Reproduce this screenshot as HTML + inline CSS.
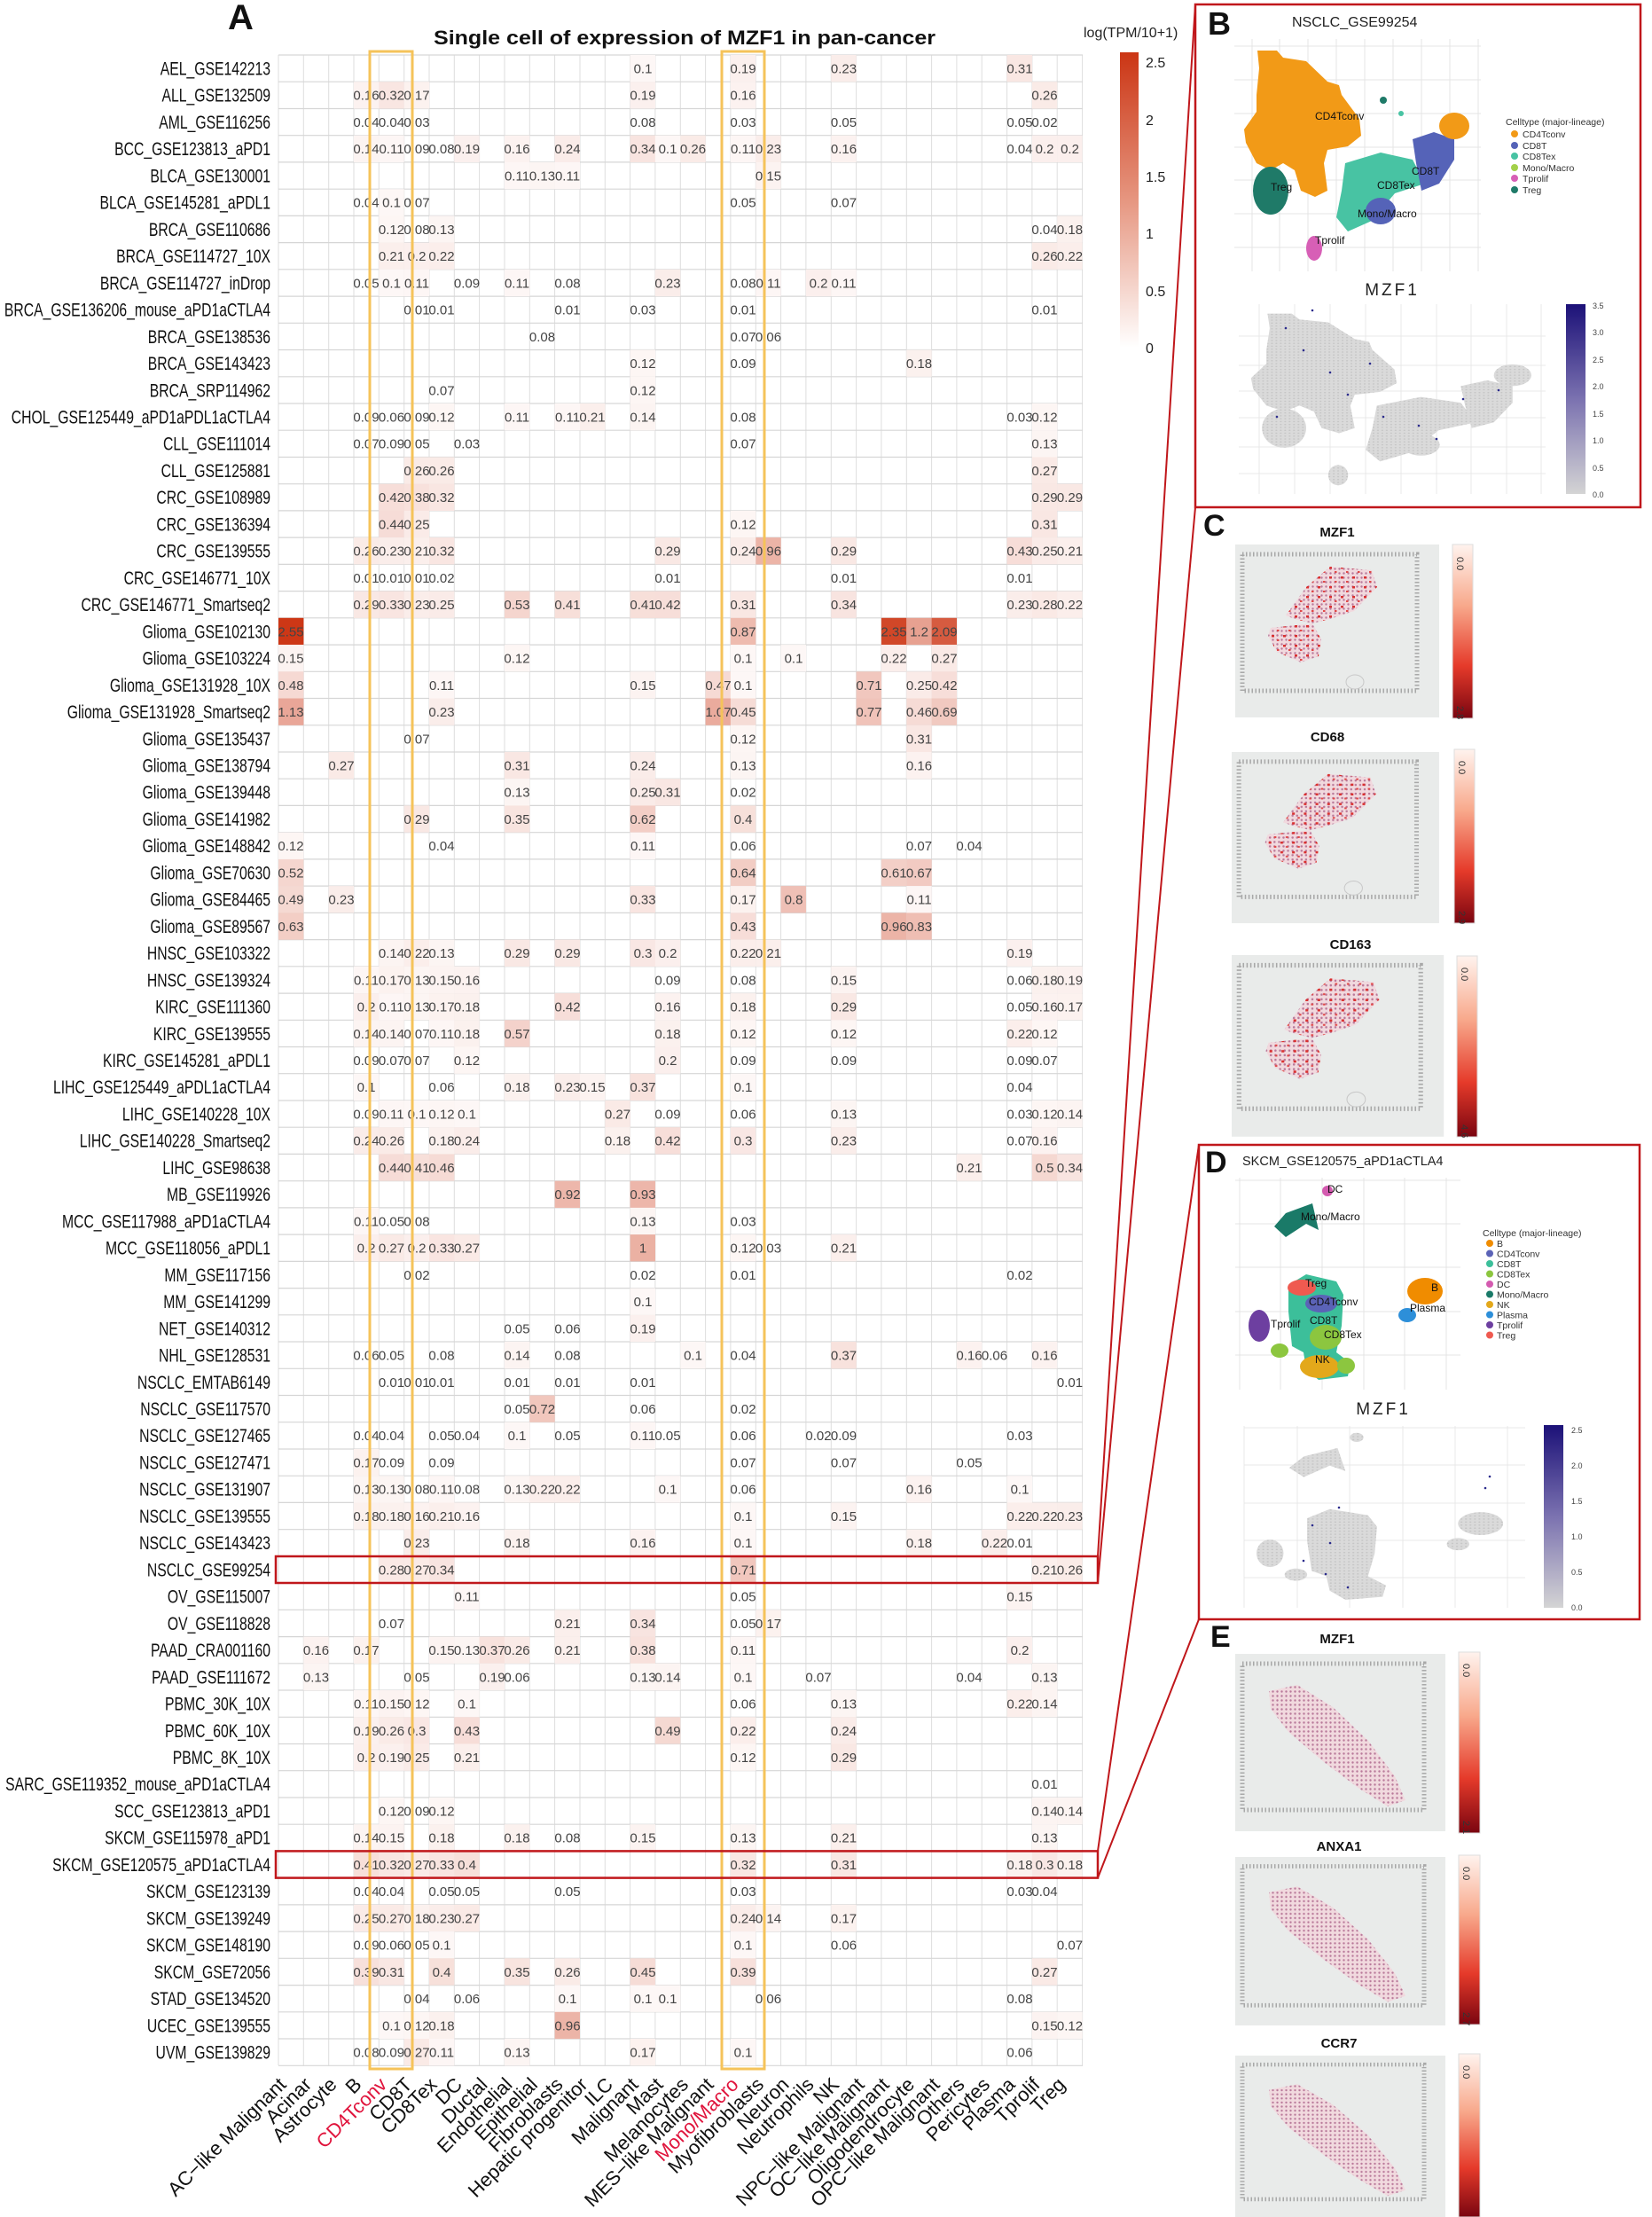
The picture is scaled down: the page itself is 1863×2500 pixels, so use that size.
<!DOCTYPE html>
<html><head><meta charset="utf-8">
<style>
html,body{margin:0;padding:0;background:#fff}
svg{display:block;font-family:"Liberation Sans",Arial,sans-serif}
rect.c{width:28.4px;height:30.3px}
.v text{font-size:15px;fill:#444;text-anchor:middle}
.yl text{font-size:21px;fill:#111;text-anchor:end}
.xl text{font-size:22px;fill:#111;text-anchor:end}
.lg text{font-size:10.5px;fill:#333}
.cl text{font-size:12px;fill:#111}
.tk text{font-size:9px;fill:#444}
</style></head><body>
<svg width="1863" height="2500" viewBox="0 0 1863 2500" xmlns="http://www.w3.org/2000/svg" xmlns:xlink="http://www.w3.org/1999/xlink">
<defs>
<linearGradient id="gA" x1="0" y1="0" x2="0" y2="1"><stop offset="0" stop-color="#cb3514"/><stop offset="0.5" stop-color="#e69680"/><stop offset="1" stop-color="#ffffff"/></linearGradient>
<linearGradient id="gB" x1="0" y1="0" x2="0" y2="1"><stop offset="0" stop-color="#1c1178"/><stop offset="0.5" stop-color="#7b72b0"/><stop offset="1" stop-color="#d4d4d4"/></linearGradient>
<linearGradient id="gR" x1="0" y1="0" x2="0" y2="1"><stop offset="0" stop-color="#fff3ee"/><stop offset="0.35" stop-color="#f8a98c"/><stop offset="0.7" stop-color="#e53a2a"/><stop offset="1" stop-color="#7a0510"/></linearGradient>
<pattern id="tp" width="5" height="5" patternUnits="userSpaceOnUse"><rect width="5" height="5" fill="#f1d9de"/><circle cx="2.5" cy="2.5" r="1.2" fill="#b9799a"/></pattern>
<pattern id="rd" width="13" height="11" patternUnits="userSpaceOnUse"><rect x="2" y="3" width="3" height="2.5" fill="#d93030"/><rect x="8" y="8" width="2.5" height="2" fill="#e04848"/></pattern>
<pattern id="gp" width="4" height="4" patternUnits="userSpaceOnUse"><rect width="4" height="4" fill="#dadada"/><circle cx="2" cy="2" r="0.9" fill="#c4c4c4"/></pattern>
<g id="sp1">
<rect width="230" height="195" fill="#e9ebea"/>
<rect x="8" y="11" width="197" height="154" fill="none" stroke="#a8a8a8" stroke-width="5" stroke-dasharray="1.5 2.5"/>
<polygon points="107,25 154,29 160,48 134,75 107,84 87,89 67,84 57,80 80,48" fill="url(#tp)"/>
<polygon points="40,94 87,89 97,107 94,126 74,133 47,121 37,103" fill="url(#tp)"/>
<polygon points="107,25 154,29 160,48 134,75 107,84 87,89 67,84 57,80 80,48" fill="url(#rd)"/>
<polygon points="40,94 87,89 97,107 94,126 74,133 47,121 37,103" fill="url(#rd)"/>
<ellipse cx="135" cy="155" rx="10" ry="8" fill="none" stroke="#c8c8c8"/>
</g>
<g id="sp2">
<rect width="237" height="200" fill="#e9ebea"/>
<rect x="8" y="11" width="205" height="165" fill="none" stroke="#a8a8a8" stroke-width="5" stroke-dasharray="1.5 2.5"/>
<polygon points="38,42 70,35 110,60 150,98 180,138 192,165 172,172 140,152 100,122 60,88 40,62" fill="url(#tp)"/>
</g>
<g id="umapB">
<polygon points="1418,57 1440,57 1447,65 1473,69 1497,92 1510,96 1513,107 1533,134 1535,153 1520,165 1497,169 1493,184 1497,215 1483,222 1467,215 1460,192 1447,184 1433,192 1417,184 1405,161 1403,146 1417,126 1417,107 1420,77"/>
<ellipse cx="1433" cy="215" rx="20" ry="27"/>
<polygon points="1517,184 1557,172 1593,180 1607,207 1573,218 1547,249 1520,261 1507,245 1513,215"/>
<polygon points="1593,157 1617,149 1640,157 1640,180 1623,207 1603,215 1597,184"/>
<ellipse cx="1557" cy="238" rx="17" ry="15"/>
<ellipse cx="1640" cy="142" rx="17" ry="15"/>
<ellipse cx="1482" cy="280" rx="9" ry="14"/>
</g>
<g id="umapD">
<polygon points="1437,1383 1450,1368 1480,1357 1487,1387 1473,1380 1450,1395"/>
<circle cx="1497" cy="1343" r="6"/>
<polygon points="1453,1449 1473,1437 1507,1445 1515,1460 1513,1495 1507,1525 1523,1537 1520,1552 1487,1556 1473,1544 1470,1525 1457,1518 1453,1479"/>
<ellipse cx="1420" cy="1495" rx="12" ry="18"/>
<ellipse cx="1443" cy="1523" rx="10" ry="8"/>
<ellipse cx="1607" cy="1456" rx="20" ry="15"/>
<ellipse cx="1587" cy="1483" rx="10" ry="8"/>
</g>
</defs>

<!-- Panel A -->
<text x="257" y="33" font-size="40" font-weight="bold" fill="#111">A</text>
<text x="489" y="50" font-size="22" font-weight="bold" fill="#111" textLength="566" lengthAdjust="spacingAndGlyphs">Single cell of expression of MZF1 in pan-cancer</text>

<path fill="none" stroke="#dedede" stroke-width="1" d="M314 62V2329M342.3 62V2329M370.7 62V2329M399 62V2329M427.3 62V2329M455.7 62V2329M484 62V2329M512.3 62V2329M540.6 62V2329M569 62V2329M597.3 62V2329M625.6 62V2329M654 62V2329M682.3 62V2329M710.6 62V2329M738.9 62V2329M767.3 62V2329M795.6 62V2329M823.9 62V2329M852.3 62V2329M880.6 62V2329M908.9 62V2329M937.3 62V2329M965.6 62V2329M993.9 62V2329M1022.3 62V2329M1050.6 62V2329M1078.9 62V2329M1107.2 62V2329M1135.6 62V2329M1163.9 62V2329M1192.2 62V2329M1220.6 62V2329"/>
<path fill="none" stroke="#d6d6d6" stroke-width="1.2" d="M314 62H1221M314 92.2H1221M314 122.5H1221M314 152.7H1221M314 182.9H1221M314 213.2H1221M314 243.4H1221M314 273.6H1221M314 303.8H1221M314 334.1H1221M314 364.3H1221M314 394.5H1221M314 424.8H1221M314 455H1221M314 485.2H1221M314 515.5H1221M314 545.7H1221M314 575.9H1221M314 606.1H1221M314 636.4H1221M314 666.6H1221M314 696.8H1221M314 727.1H1221M314 757.3H1221M314 787.5H1221M314 817.8H1221M314 848H1221M314 878.2H1221M314 908.4H1221M314 938.7H1221M314 968.9H1221M314 999.1H1221M314 1029.4H1221M314 1059.6H1221M314 1089.8H1221M314 1120.1H1221M314 1150.3H1221M314 1180.5H1221M314 1210.7H1221M314 1241H1221M314 1271.2H1221M314 1301.4H1221M314 1331.7H1221M314 1361.9H1221M314 1392.1H1221M314 1422.4H1221M314 1452.6H1221M314 1482.8H1221M314 1513H1221M314 1543.3H1221M314 1573.5H1221M314 1603.7H1221M314 1634H1221M314 1664.2H1221M314 1694.4H1221M314 1724.7H1221M314 1754.9H1221M314 1785.1H1221M314 1815.3H1221M314 1845.6H1221M314 1875.8H1221M314 1906H1221M314 1936.3H1221M314 1966.5H1221M314 1996.7H1221M314 2027H1221M314 2057.2H1221M314 2087.4H1221M314 2117.6H1221M314 2147.9H1221M314 2178.1H1221M314 2208.3H1221M314 2238.6H1221M314 2268.8H1221M314 2299H1221M314 2329.3H1221"/>

<g class="v">
<g transform="translate(0,62)"><rect class="c" x="710.6" fill="rgb(253,247,246)"/><rect class="c" x="823.9" fill="rgb(251,240,238)"/><rect class="c" x="937.3" fill="rgb(250,237,234)"/><rect class="c" x="1135.6" fill="rgb(249,231,227)"/><text x="725" y="20.5">0.1</text><text x="838" y="20.5">0.19</text><text x="951.5" y="20.5">0.23</text><text x="1150" y="20.5">0.31</text></g>
<g transform="translate(0,92.2)"><rect class="c" x="399" fill="rgb(252,242,240)"/><rect class="c" x="427.3" fill="rgb(249,230,226)"/><rect class="c" x="455.7" fill="rgb(252,242,239)"/><rect class="c" x="710.6" fill="rgb(251,240,238)"/><rect class="c" x="823.9" fill="rgb(252,242,240)"/><rect class="c" x="1163.9" fill="rgb(250,235,231)"/><text x="413" y="20.5">0.16</text><text x="441.5" y="20.5">0.32</text><text x="470" y="20.5">0.17</text><text x="725" y="20.5">0.19</text><text x="838" y="20.5">0.16</text><text x="1178" y="20.5">0.26</text></g>
<g transform="translate(0,122.5)"><text x="413" y="20.5">0.04</text><text x="441.5" y="20.5">0.04</text><text x="470" y="20.5">0.03</text><text x="725" y="20.5">0.08</text><text x="838" y="20.5">0.03</text><text x="951.5" y="20.5">0.05</text><text x="1150" y="20.5">0.05</text><text x="1178" y="20.5">0.02</text></g>
<g transform="translate(0,152.7)"><rect class="c" x="399" fill="rgb(252,244,242)"/><rect class="c" x="427.3" fill="rgb(253,246,245)"/><rect class="c" x="512.3" fill="rgb(251,240,238)"/><rect class="c" x="569" fill="rgb(252,242,240)"/><rect class="c" x="625.6" fill="rgb(250,236,233)"/><rect class="c" x="710.6" fill="rgb(248,228,224)"/><rect class="c" x="738.9" fill="rgb(253,247,246)"/><rect class="c" x="767.3" fill="rgb(250,235,231)"/><rect class="c" x="823.9" fill="rgb(253,246,245)"/><rect class="c" x="852.3" fill="rgb(250,237,234)"/><rect class="c" x="937.3" fill="rgb(252,242,240)"/><rect class="c" x="1163.9" fill="rgb(251,239,237)"/><rect class="c" x="1192.2" fill="rgb(251,239,237)"/><text x="413" y="20.5">0.14</text><text x="441.5" y="20.5">0.11</text><text x="470" y="20.5">0.09</text><text x="498" y="20.5">0.08</text><text x="526.5" y="20.5">0.19</text><text x="583" y="20.5">0.16</text><text x="640" y="20.5">0.24</text><text x="725" y="20.5">0.34</text><text x="753" y="20.5">0.1</text><text x="781.5" y="20.5">0.26</text><text x="838" y="20.5">0.11</text><text x="866.5" y="20.5">0.23</text><text x="951.5" y="20.5">0.16</text><text x="1150" y="20.5">0.04</text><text x="1178" y="20.5">0.2</text><text x="1206.5" y="20.5">0.2</text></g>
<g transform="translate(0,182.9)"><rect class="c" x="569" fill="rgb(253,246,245)"/><rect class="c" x="597.3" fill="rgb(252,245,243)"/><rect class="c" x="625.6" fill="rgb(253,246,245)"/><rect class="c" x="852.3" fill="rgb(252,243,241)"/><text x="583" y="20.5">0.11</text><text x="611.5" y="20.5">0.13</text><text x="640" y="20.5">0.11</text><text x="866.5" y="20.5">0.15</text></g>
<g transform="translate(0,213.2)"><rect class="c" x="427.3" fill="rgb(253,247,246)"/><text x="413" y="20.5">0.04</text><text x="441.5" y="20.5">0.1</text><text x="470" y="20.5">0.07</text><text x="838" y="20.5">0.05</text><text x="951.5" y="20.5">0.07</text></g>
<g transform="translate(0,243.4)"><rect class="c" x="427.3" fill="rgb(253,246,244)"/><rect class="c" x="484" fill="rgb(252,245,243)"/><rect class="c" x="1192.2" fill="rgb(251,241,238)"/><text x="441.5" y="20.5">0.12</text><text x="470" y="20.5">0.08</text><text x="498" y="20.5">0.13</text><text x="1178" y="20.5">0.04</text><text x="1206.5" y="20.5">0.18</text></g>
<g transform="translate(0,273.6)"><rect class="c" x="427.3" fill="rgb(251,239,236)"/><rect class="c" x="455.7" fill="rgb(251,239,237)"/><rect class="c" x="484" fill="rgb(251,238,235)"/><rect class="c" x="1163.9" fill="rgb(250,235,231)"/><rect class="c" x="1192.2" fill="rgb(251,238,235)"/><text x="441.5" y="20.5">0.21</text><text x="470" y="20.5">0.2</text><text x="498" y="20.5">0.22</text><text x="1178" y="20.5">0.26</text><text x="1206.5" y="20.5">0.22</text></g>
<g transform="translate(0,303.8)"><rect class="c" x="427.3" fill="rgb(253,247,246)"/><rect class="c" x="455.7" fill="rgb(253,246,245)"/><rect class="c" x="569" fill="rgb(253,246,245)"/><rect class="c" x="738.9" fill="rgb(250,237,234)"/><rect class="c" x="852.3" fill="rgb(253,246,245)"/><rect class="c" x="908.9" fill="rgb(251,239,237)"/><rect class="c" x="937.3" fill="rgb(253,246,245)"/><text x="413" y="20.5">0.05</text><text x="441.5" y="20.5">0.1</text><text x="470" y="20.5">0.11</text><text x="526.5" y="20.5">0.09</text><text x="583" y="20.5">0.11</text><text x="640" y="20.5">0.08</text><text x="753" y="20.5">0.23</text><text x="838" y="20.5">0.08</text><text x="866.5" y="20.5">0.11</text><text x="923" y="20.5">0.2</text><text x="951.5" y="20.5">0.11</text></g>
<g transform="translate(0,334.1)"><text x="470" y="20.5">0.01</text><text x="498" y="20.5">0.01</text><text x="640" y="20.5">0.01</text><text x="725" y="20.5">0.03</text><text x="838" y="20.5">0.01</text><text x="1178" y="20.5">0.01</text></g>
<g transform="translate(0,364.3)"><text x="611.5" y="20.5">0.08</text><text x="838" y="20.5">0.07</text><text x="866.5" y="20.5">0.06</text></g>
<g transform="translate(0,394.5)"><rect class="c" x="710.6" fill="rgb(253,246,244)"/><rect class="c" x="1022.3" fill="rgb(251,241,238)"/><text x="725" y="20.5">0.12</text><text x="838" y="20.5">0.09</text><text x="1036.5" y="20.5">0.18</text></g>
<g transform="translate(0,424.8)"><rect class="c" x="710.6" fill="rgb(253,246,244)"/><text x="498" y="20.5">0.07</text><text x="725" y="20.5">0.12</text></g>
<g transform="translate(0,455)"><rect class="c" x="484" fill="rgb(253,246,244)"/><rect class="c" x="569" fill="rgb(253,246,245)"/><rect class="c" x="625.6" fill="rgb(253,246,245)"/><rect class="c" x="654" fill="rgb(251,239,236)"/><rect class="c" x="710.6" fill="rgb(252,244,242)"/><rect class="c" x="1163.9" fill="rgb(253,246,244)"/><text x="413" y="20.5">0.09</text><text x="441.5" y="20.5">0.06</text><text x="470" y="20.5">0.09</text><text x="498" y="20.5">0.12</text><text x="583" y="20.5">0.11</text><text x="640" y="20.5">0.11</text><text x="668" y="20.5">0.21</text><text x="725" y="20.5">0.14</text><text x="838" y="20.5">0.08</text><text x="1150" y="20.5">0.03</text><text x="1178" y="20.5">0.12</text></g>
<g transform="translate(0,485.2)"><rect class="c" x="1163.9" fill="rgb(252,245,243)"/><text x="413" y="20.5">0.07</text><text x="441.5" y="20.5">0.09</text><text x="470" y="20.5">0.05</text><text x="526.5" y="20.5">0.03</text><text x="838" y="20.5">0.07</text><text x="1178" y="20.5">0.13</text></g>
<g transform="translate(0,515.5)"><rect class="c" x="455.7" fill="rgb(250,235,231)"/><rect class="c" x="484" fill="rgb(250,235,231)"/><rect class="c" x="1163.9" fill="rgb(250,234,230)"/><text x="470" y="20.5">0.26</text><text x="498" y="20.5">0.26</text><text x="1178" y="20.5">0.27</text></g>
<g transform="translate(0,545.7)"><rect class="c" x="427.3" fill="rgb(247,222,217)"/><rect class="c" x="455.7" fill="rgb(248,225,220)"/><rect class="c" x="484" fill="rgb(249,230,226)"/><rect class="c" x="1163.9" fill="rgb(249,232,228)"/><rect class="c" x="1192.2" fill="rgb(249,232,228)"/><text x="441.5" y="20.5">0.42</text><text x="470" y="20.5">0.38</text><text x="498" y="20.5">0.32</text><text x="1178" y="20.5">0.29</text><text x="1206.5" y="20.5">0.29</text></g>
<g transform="translate(0,575.9)"><rect class="c" x="427.3" fill="rgb(246,220,215)"/><rect class="c" x="455.7" fill="rgb(250,235,232)"/><rect class="c" x="823.9" fill="rgb(253,246,244)"/><rect class="c" x="1163.9" fill="rgb(249,231,227)"/><text x="441.5" y="20.5">0.44</text><text x="470" y="20.5">0.25</text><text x="838" y="20.5">0.12</text><text x="1178" y="20.5">0.31</text></g>
<g transform="translate(0,606.1)"><rect class="c" x="399" fill="rgb(250,235,231)"/><rect class="c" x="427.3" fill="rgb(250,237,234)"/><rect class="c" x="455.7" fill="rgb(251,239,236)"/><rect class="c" x="484" fill="rgb(249,230,226)"/><rect class="c" x="738.9" fill="rgb(249,232,228)"/><rect class="c" x="823.9" fill="rgb(250,236,233)"/><rect class="c" x="852.3" fill="rgb(236,180,167)"/><rect class="c" x="937.3" fill="rgb(249,232,228)"/><rect class="c" x="1135.6" fill="rgb(247,221,216)"/><rect class="c" x="1163.9" fill="rgb(250,235,232)"/><rect class="c" x="1192.2" fill="rgb(251,239,236)"/><text x="413" y="20.5">0.26</text><text x="441.5" y="20.5">0.23</text><text x="470" y="20.5">0.21</text><text x="498" y="20.5">0.32</text><text x="753" y="20.5">0.29</text><text x="838" y="20.5">0.24</text><text x="866.5" y="20.5">0.96</text><text x="951.5" y="20.5">0.29</text><text x="1150" y="20.5">0.43</text><text x="1178" y="20.5">0.25</text><text x="1206.5" y="20.5">0.21</text></g>
<g transform="translate(0,636.4)"><text x="413" y="20.5">0.01</text><text x="441.5" y="20.5">0.01</text><text x="470" y="20.5">0.01</text><text x="498" y="20.5">0.02</text><text x="753" y="20.5">0.01</text><text x="951.5" y="20.5">0.01</text><text x="1150" y="20.5">0.01</text></g>
<g transform="translate(0,666.6)"><rect class="c" x="399" fill="rgb(249,232,228)"/><rect class="c" x="427.3" fill="rgb(249,229,225)"/><rect class="c" x="455.7" fill="rgb(250,237,234)"/><rect class="c" x="484" fill="rgb(250,235,232)"/><rect class="c" x="569" fill="rgb(245,213,206)"/><rect class="c" x="625.6" fill="rgb(247,223,217)"/><rect class="c" x="710.6" fill="rgb(247,223,217)"/><rect class="c" x="738.9" fill="rgb(247,222,217)"/><rect class="c" x="823.9" fill="rgb(249,231,227)"/><rect class="c" x="937.3" fill="rgb(248,228,224)"/><rect class="c" x="1135.6" fill="rgb(250,237,234)"/><rect class="c" x="1163.9" fill="rgb(250,233,229)"/><rect class="c" x="1192.2" fill="rgb(251,238,235)"/><text x="413" y="20.5">0.29</text><text x="441.5" y="20.5">0.33</text><text x="470" y="20.5">0.23</text><text x="498" y="20.5">0.25</text><text x="583" y="20.5">0.53</text><text x="640" y="20.5">0.41</text><text x="725" y="20.5">0.41</text><text x="753" y="20.5">0.42</text><text x="838" y="20.5">0.31</text><text x="951.5" y="20.5">0.34</text><text x="1150" y="20.5">0.23</text><text x="1178" y="20.5">0.28</text><text x="1206.5" y="20.5">0.22</text></g>
<g transform="translate(0,696.8)"><rect class="c" x="314" fill="rgb(205,55,22)"/><rect class="c" x="823.9" fill="rgb(238,187,175)"/><rect class="c" x="993.9" fill="rgb(209,71,40)"/><rect class="c" x="1022.3" fill="rgb(231,161,145)"/><rect class="c" x="1050.6" fill="rgb(214,91,64)"/><text x="328" y="20.5">2.55</text><text x="838" y="20.5">0.87</text><text x="1008" y="20.5">2.35</text><text x="1036.5" y="20.5">1.2</text><text x="1065" y="20.5">2.09</text></g>
<g transform="translate(0,727.1)"><rect class="c" x="314" fill="rgb(252,243,241)"/><rect class="c" x="569" fill="rgb(253,246,244)"/><rect class="c" x="823.9" fill="rgb(253,247,246)"/><rect class="c" x="880.6" fill="rgb(253,247,246)"/><rect class="c" x="993.9" fill="rgb(251,238,235)"/><rect class="c" x="1050.6" fill="rgb(250,234,230)"/><text x="328" y="20.5">0.15</text><text x="583" y="20.5">0.12</text><text x="838" y="20.5">0.1</text><text x="895" y="20.5">0.1</text><text x="1008" y="20.5">0.22</text><text x="1065" y="20.5">0.27</text></g>
<g transform="translate(0,757.3)"><rect class="c" x="314" fill="rgb(246,217,211)"/><rect class="c" x="484" fill="rgb(253,246,245)"/><rect class="c" x="710.6" fill="rgb(252,243,241)"/><rect class="c" x="795.6" fill="rgb(246,218,212)"/><rect class="c" x="823.9" fill="rgb(253,247,246)"/><rect class="c" x="965.6" fill="rgb(241,199,190)"/><rect class="c" x="1022.3" fill="rgb(250,235,232)"/><rect class="c" x="1050.6" fill="rgb(247,222,217)"/><text x="328" y="20.5">0.48</text><text x="498" y="20.5">0.11</text><text x="725" y="20.5">0.15</text><text x="810" y="20.5">0.47</text><text x="838" y="20.5">0.1</text><text x="980" y="20.5">0.71</text><text x="1036.5" y="20.5">0.25</text><text x="1065" y="20.5">0.42</text></g>
<g transform="translate(0,787.5)"><rect class="c" x="314" fill="rgb(233,166,152)"/><rect class="c" x="484" fill="rgb(250,237,234)"/><rect class="c" x="795.6" fill="rgb(234,171,157)"/><rect class="c" x="823.9" fill="rgb(246,220,214)"/><rect class="c" x="965.6" fill="rgb(240,195,185)"/><rect class="c" x="1022.3" fill="rgb(246,219,213)"/><rect class="c" x="1050.6" fill="rgb(241,201,192)"/><text x="328" y="20.5">1.13</text><text x="498" y="20.5">0.23</text><text x="810" y="20.5">1.07</text><text x="838" y="20.5">0.45</text><text x="980" y="20.5">0.77</text><text x="1036.5" y="20.5">0.46</text><text x="1065" y="20.5">0.69</text></g>
<g transform="translate(0,817.8)"><rect class="c" x="823.9" fill="rgb(253,246,244)"/><rect class="c" x="1022.3" fill="rgb(249,231,227)"/><text x="470" y="20.5">0.07</text><text x="838" y="20.5">0.12</text><text x="1036.5" y="20.5">0.31</text></g>
<g transform="translate(0,848)"><rect class="c" x="370.7" fill="rgb(250,234,230)"/><rect class="c" x="569" fill="rgb(249,231,227)"/><rect class="c" x="710.6" fill="rgb(250,236,233)"/><rect class="c" x="823.9" fill="rgb(252,245,243)"/><rect class="c" x="1022.3" fill="rgb(252,242,240)"/><text x="385" y="20.5">0.27</text><text x="583" y="20.5">0.31</text><text x="725" y="20.5">0.24</text><text x="838" y="20.5">0.13</text><text x="1036.5" y="20.5">0.16</text></g>
<g transform="translate(0,878.2)"><rect class="c" x="569" fill="rgb(252,245,243)"/><rect class="c" x="710.6" fill="rgb(250,235,232)"/><rect class="c" x="738.9" fill="rgb(249,231,227)"/><text x="583" y="20.5">0.13</text><text x="725" y="20.5">0.25</text><text x="753" y="20.5">0.31</text><text x="838" y="20.5">0.02</text></g>
<g transform="translate(0,908.4)"><rect class="c" x="455.7" fill="rgb(249,232,228)"/><rect class="c" x="569" fill="rgb(248,228,223)"/><rect class="c" x="710.6" fill="rgb(243,206,198)"/><rect class="c" x="823.9" fill="rgb(247,224,218)"/><text x="470" y="20.5">0.29</text><text x="583" y="20.5">0.35</text><text x="725" y="20.5">0.62</text><text x="838" y="20.5">0.4</text></g>
<g transform="translate(0,938.7)"><rect class="c" x="314" fill="rgb(253,246,244)"/><rect class="c" x="710.6" fill="rgb(253,246,245)"/><text x="328" y="20.5">0.12</text><text x="498" y="20.5">0.04</text><text x="725" y="20.5">0.11</text><text x="838" y="20.5">0.06</text><text x="1036.5" y="20.5">0.07</text><text x="1093" y="20.5">0.04</text></g>
<g transform="translate(0,968.9)"><rect class="c" x="314" fill="rgb(245,214,207)"/><rect class="c" x="823.9" fill="rgb(242,205,196)"/><rect class="c" x="993.9" fill="rgb(243,207,199)"/><rect class="c" x="1022.3" fill="rgb(242,202,194)"/><text x="328" y="20.5">0.52</text><text x="838" y="20.5">0.64</text><text x="1008" y="20.5">0.61</text><text x="1036.5" y="20.5">0.67</text></g>
<g transform="translate(0,999.1)"><rect class="c" x="314" fill="rgb(245,217,210)"/><rect class="c" x="370.7" fill="rgb(250,237,234)"/><rect class="c" x="710.6" fill="rgb(249,229,225)"/><rect class="c" x="823.9" fill="rgb(252,242,239)"/><rect class="c" x="880.6" fill="rgb(239,192,182)"/><rect class="c" x="1022.3" fill="rgb(253,246,245)"/><text x="328" y="20.5">0.49</text><text x="385" y="20.5">0.23</text><text x="725" y="20.5">0.33</text><text x="838" y="20.5">0.17</text><text x="895" y="20.5">0.8</text><text x="1036.5" y="20.5">0.11</text></g>
<g transform="translate(0,1029.4)"><rect class="c" x="314" fill="rgb(243,206,197)"/><rect class="c" x="823.9" fill="rgb(247,221,216)"/><rect class="c" x="993.9" fill="rgb(236,180,167)"/><rect class="c" x="1022.3" fill="rgb(239,190,179)"/><text x="328" y="20.5">0.63</text><text x="838" y="20.5">0.43</text><text x="1008" y="20.5">0.96</text><text x="1036.5" y="20.5">0.83</text></g>
<g transform="translate(0,1059.6)"><rect class="c" x="427.3" fill="rgb(252,244,242)"/><rect class="c" x="455.7" fill="rgb(251,238,235)"/><rect class="c" x="484" fill="rgb(252,245,243)"/><rect class="c" x="569" fill="rgb(249,232,228)"/><rect class="c" x="625.6" fill="rgb(249,232,228)"/><rect class="c" x="710.6" fill="rgb(249,231,228)"/><rect class="c" x="738.9" fill="rgb(251,239,237)"/><rect class="c" x="823.9" fill="rgb(251,238,235)"/><rect class="c" x="852.3" fill="rgb(251,239,236)"/><rect class="c" x="1135.6" fill="rgb(251,240,238)"/><text x="441.5" y="20.5">0.14</text><text x="470" y="20.5">0.22</text><text x="498" y="20.5">0.13</text><text x="583" y="20.5">0.29</text><text x="640" y="20.5">0.29</text><text x="725" y="20.5">0.3</text><text x="753" y="20.5">0.2</text><text x="838" y="20.5">0.22</text><text x="866.5" y="20.5">0.21</text><text x="1150" y="20.5">0.19</text></g>
<g transform="translate(0,1089.8)"><rect class="c" x="399" fill="rgb(253,246,245)"/><rect class="c" x="427.3" fill="rgb(252,242,239)"/><rect class="c" x="455.7" fill="rgb(252,245,243)"/><rect class="c" x="484" fill="rgb(252,243,241)"/><rect class="c" x="512.3" fill="rgb(252,242,240)"/><rect class="c" x="937.3" fill="rgb(252,243,241)"/><rect class="c" x="1163.9" fill="rgb(251,241,238)"/><rect class="c" x="1192.2" fill="rgb(251,240,238)"/><text x="413" y="20.5">0.11</text><text x="441.5" y="20.5">0.17</text><text x="470" y="20.5">0.13</text><text x="498" y="20.5">0.15</text><text x="526.5" y="20.5">0.16</text><text x="753" y="20.5">0.09</text><text x="838" y="20.5">0.08</text><text x="951.5" y="20.5">0.15</text><text x="1150" y="20.5">0.06</text><text x="1178" y="20.5">0.18</text><text x="1206.5" y="20.5">0.19</text></g>
<g transform="translate(0,1120.1)"><rect class="c" x="399" fill="rgb(251,239,237)"/><rect class="c" x="427.3" fill="rgb(253,246,245)"/><rect class="c" x="455.7" fill="rgb(252,245,243)"/><rect class="c" x="484" fill="rgb(252,242,239)"/><rect class="c" x="512.3" fill="rgb(251,241,238)"/><rect class="c" x="625.6" fill="rgb(247,222,217)"/><rect class="c" x="738.9" fill="rgb(252,242,240)"/><rect class="c" x="823.9" fill="rgb(251,241,238)"/><rect class="c" x="937.3" fill="rgb(249,232,228)"/><rect class="c" x="1163.9" fill="rgb(252,242,240)"/><rect class="c" x="1192.2" fill="rgb(252,242,239)"/><text x="413" y="20.5">0.2</text><text x="441.5" y="20.5">0.11</text><text x="470" y="20.5">0.13</text><text x="498" y="20.5">0.17</text><text x="526.5" y="20.5">0.18</text><text x="640" y="20.5">0.42</text><text x="753" y="20.5">0.16</text><text x="838" y="20.5">0.18</text><text x="951.5" y="20.5">0.29</text><text x="1150" y="20.5">0.05</text><text x="1178" y="20.5">0.16</text><text x="1206.5" y="20.5">0.17</text></g>
<g transform="translate(0,1150.3)"><rect class="c" x="399" fill="rgb(252,244,242)"/><rect class="c" x="427.3" fill="rgb(252,244,242)"/><rect class="c" x="484" fill="rgb(253,246,245)"/><rect class="c" x="512.3" fill="rgb(251,241,238)"/><rect class="c" x="569" fill="rgb(244,210,203)"/><rect class="c" x="738.9" fill="rgb(251,241,238)"/><rect class="c" x="823.9" fill="rgb(253,246,244)"/><rect class="c" x="937.3" fill="rgb(253,246,244)"/><rect class="c" x="1135.6" fill="rgb(251,238,235)"/><rect class="c" x="1163.9" fill="rgb(253,246,244)"/><text x="413" y="20.5">0.14</text><text x="441.5" y="20.5">0.14</text><text x="470" y="20.5">0.07</text><text x="498" y="20.5">0.11</text><text x="526.5" y="20.5">0.18</text><text x="583" y="20.5">0.57</text><text x="753" y="20.5">0.18</text><text x="838" y="20.5">0.12</text><text x="951.5" y="20.5">0.12</text><text x="1150" y="20.5">0.22</text><text x="1178" y="20.5">0.12</text></g>
<g transform="translate(0,1180.5)"><rect class="c" x="512.3" fill="rgb(253,246,244)"/><rect class="c" x="738.9" fill="rgb(251,239,237)"/><text x="413" y="20.5">0.09</text><text x="441.5" y="20.5">0.07</text><text x="470" y="20.5">0.07</text><text x="526.5" y="20.5">0.12</text><text x="753" y="20.5">0.2</text><text x="838" y="20.5">0.09</text><text x="951.5" y="20.5">0.09</text><text x="1150" y="20.5">0.09</text><text x="1178" y="20.5">0.07</text></g>
<g transform="translate(0,1210.7)"><rect class="c" x="399" fill="rgb(253,247,246)"/><rect class="c" x="569" fill="rgb(251,241,238)"/><rect class="c" x="625.6" fill="rgb(250,237,234)"/><rect class="c" x="654" fill="rgb(252,243,241)"/><rect class="c" x="710.6" fill="rgb(248,226,221)"/><rect class="c" x="823.9" fill="rgb(253,247,246)"/><text x="413" y="20.5">0.1</text><text x="498" y="20.5">0.06</text><text x="583" y="20.5">0.18</text><text x="640" y="20.5">0.23</text><text x="668" y="20.5">0.15</text><text x="725" y="20.5">0.37</text><text x="838" y="20.5">0.1</text><text x="1150" y="20.5">0.04</text></g>
<g transform="translate(0,1241)"><rect class="c" x="427.3" fill="rgb(253,246,245)"/><rect class="c" x="455.7" fill="rgb(253,247,246)"/><rect class="c" x="484" fill="rgb(253,246,244)"/><rect class="c" x="512.3" fill="rgb(253,247,246)"/><rect class="c" x="682.3" fill="rgb(250,234,230)"/><rect class="c" x="937.3" fill="rgb(252,245,243)"/><rect class="c" x="1163.9" fill="rgb(253,246,244)"/><rect class="c" x="1192.2" fill="rgb(252,244,242)"/><text x="413" y="20.5">0.09</text><text x="441.5" y="20.5">0.11</text><text x="470" y="20.5">0.1</text><text x="498" y="20.5">0.12</text><text x="526.5" y="20.5">0.1</text><text x="696.5" y="20.5">0.27</text><text x="753" y="20.5">0.09</text><text x="838" y="20.5">0.06</text><text x="951.5" y="20.5">0.13</text><text x="1150" y="20.5">0.03</text><text x="1178" y="20.5">0.12</text><text x="1206.5" y="20.5">0.14</text></g>
<g transform="translate(0,1271.2)"><rect class="c" x="399" fill="rgb(250,236,233)"/><rect class="c" x="427.3" fill="rgb(250,235,231)"/><rect class="c" x="484" fill="rgb(251,241,238)"/><rect class="c" x="512.3" fill="rgb(250,236,233)"/><rect class="c" x="682.3" fill="rgb(251,241,238)"/><rect class="c" x="738.9" fill="rgb(247,222,217)"/><rect class="c" x="823.9" fill="rgb(249,231,228)"/><rect class="c" x="937.3" fill="rgb(250,237,234)"/><rect class="c" x="1163.9" fill="rgb(252,242,240)"/><text x="413" y="20.5">0.24</text><text x="441.5" y="20.5">0.26</text><text x="498" y="20.5">0.18</text><text x="526.5" y="20.5">0.24</text><text x="696.5" y="20.5">0.18</text><text x="753" y="20.5">0.42</text><text x="838" y="20.5">0.3</text><text x="951.5" y="20.5">0.23</text><text x="1150" y="20.5">0.07</text><text x="1178" y="20.5">0.16</text></g>
<g transform="translate(0,1301.4)"><rect class="c" x="427.3" fill="rgb(246,220,215)"/><rect class="c" x="455.7" fill="rgb(247,223,217)"/><rect class="c" x="484" fill="rgb(246,219,213)"/><rect class="c" x="1078.9" fill="rgb(251,239,236)"/><rect class="c" x="1163.9" fill="rgb(245,216,209)"/><rect class="c" x="1192.2" fill="rgb(248,228,224)"/><text x="441.5" y="20.5">0.44</text><text x="470" y="20.5">0.41</text><text x="498" y="20.5">0.46</text><text x="1093" y="20.5">0.21</text><text x="1178" y="20.5">0.5</text><text x="1206.5" y="20.5">0.34</text></g>
<g transform="translate(0,1331.7)"><rect class="c" x="625.6" fill="rgb(237,183,171)"/><rect class="c" x="710.6" fill="rgb(237,182,170)"/><text x="640" y="20.5">0.92</text><text x="725" y="20.5">0.93</text></g>
<g transform="translate(0,1361.9)"><rect class="c" x="399" fill="rgb(253,246,245)"/><rect class="c" x="710.6" fill="rgb(252,245,243)"/><text x="413" y="20.5">0.11</text><text x="441.5" y="20.5">0.05</text><text x="470" y="20.5">0.08</text><text x="725" y="20.5">0.13</text><text x="838" y="20.5">0.03</text></g>
<g transform="translate(0,1392.1)"><rect class="c" x="399" fill="rgb(251,239,237)"/><rect class="c" x="427.3" fill="rgb(250,234,230)"/><rect class="c" x="455.7" fill="rgb(251,239,237)"/><rect class="c" x="484" fill="rgb(249,229,225)"/><rect class="c" x="512.3" fill="rgb(250,234,230)"/><rect class="c" x="710.6" fill="rgb(235,177,163)"/><rect class="c" x="823.9" fill="rgb(253,246,244)"/><rect class="c" x="937.3" fill="rgb(251,239,236)"/><text x="413" y="20.5">0.2</text><text x="441.5" y="20.5">0.27</text><text x="470" y="20.5">0.2</text><text x="498" y="20.5">0.33</text><text x="526.5" y="20.5">0.27</text><text x="725" y="20.5">1</text><text x="838" y="20.5">0.12</text><text x="866.5" y="20.5">0.03</text><text x="951.5" y="20.5">0.21</text></g>
<g transform="translate(0,1422.4)"><text x="470" y="20.5">0.02</text><text x="725" y="20.5">0.02</text><text x="838" y="20.5">0.01</text><text x="1150" y="20.5">0.02</text></g>
<g transform="translate(0,1452.6)"><rect class="c" x="710.6" fill="rgb(253,247,246)"/><text x="725" y="20.5">0.1</text></g>
<g transform="translate(0,1482.8)"><rect class="c" x="710.6" fill="rgb(251,240,238)"/><text x="583" y="20.5">0.05</text><text x="640" y="20.5">0.06</text><text x="725" y="20.5">0.19</text></g>
<g transform="translate(0,1513)"><rect class="c" x="569" fill="rgb(252,244,242)"/><rect class="c" x="767.3" fill="rgb(253,247,246)"/><rect class="c" x="937.3" fill="rgb(248,226,221)"/><rect class="c" x="1078.9" fill="rgb(252,242,240)"/><rect class="c" x="1163.9" fill="rgb(252,242,240)"/><text x="413" y="20.5">0.06</text><text x="441.5" y="20.5">0.05</text><text x="498" y="20.5">0.08</text><text x="583" y="20.5">0.14</text><text x="640" y="20.5">0.08</text><text x="781.5" y="20.5">0.1</text><text x="838" y="20.5">0.04</text><text x="951.5" y="20.5">0.37</text><text x="1093" y="20.5">0.16</text><text x="1121.5" y="20.5">0.06</text><text x="1178" y="20.5">0.16</text></g>
<g transform="translate(0,1543.3)"><text x="441.5" y="20.5">0.01</text><text x="470" y="20.5">0.01</text><text x="498" y="20.5">0.01</text><text x="583" y="20.5">0.01</text><text x="640" y="20.5">0.01</text><text x="725" y="20.5">0.01</text><text x="1206.5" y="20.5">0.01</text></g>
<g transform="translate(0,1573.5)"><rect class="c" x="597.3" fill="rgb(241,199,189)"/><text x="583" y="20.5">0.05</text><text x="611.5" y="20.5">0.72</text><text x="725" y="20.5">0.06</text><text x="838" y="20.5">0.02</text></g>
<g transform="translate(0,1603.7)"><rect class="c" x="569" fill="rgb(253,247,246)"/><rect class="c" x="710.6" fill="rgb(253,246,245)"/><text x="413" y="20.5">0.04</text><text x="441.5" y="20.5">0.04</text><text x="498" y="20.5">0.05</text><text x="526.5" y="20.5">0.04</text><text x="583" y="20.5">0.1</text><text x="640" y="20.5">0.05</text><text x="725" y="20.5">0.11</text><text x="753" y="20.5">0.05</text><text x="838" y="20.5">0.06</text><text x="923" y="20.5">0.02</text><text x="951.5" y="20.5">0.09</text><text x="1150" y="20.5">0.03</text></g>
<g transform="translate(0,1634)"><rect class="c" x="399" fill="rgb(252,242,239)"/><text x="413" y="20.5">0.17</text><text x="441.5" y="20.5">0.09</text><text x="498" y="20.5">0.09</text><text x="838" y="20.5">0.07</text><text x="951.5" y="20.5">0.07</text><text x="1093" y="20.5">0.05</text></g>
<g transform="translate(0,1664.2)"><rect class="c" x="399" fill="rgb(252,245,243)"/><rect class="c" x="427.3" fill="rgb(252,245,243)"/><rect class="c" x="484" fill="rgb(253,246,245)"/><rect class="c" x="569" fill="rgb(252,245,243)"/><rect class="c" x="597.3" fill="rgb(251,238,235)"/><rect class="c" x="625.6" fill="rgb(251,238,235)"/><rect class="c" x="738.9" fill="rgb(253,247,246)"/><rect class="c" x="1022.3" fill="rgb(252,242,240)"/><rect class="c" x="1135.6" fill="rgb(253,247,246)"/><text x="413" y="20.5">0.13</text><text x="441.5" y="20.5">0.13</text><text x="470" y="20.5">0.08</text><text x="498" y="20.5">0.11</text><text x="526.5" y="20.5">0.08</text><text x="583" y="20.5">0.13</text><text x="611.5" y="20.5">0.22</text><text x="640" y="20.5">0.22</text><text x="753" y="20.5">0.1</text><text x="838" y="20.5">0.06</text><text x="1036.5" y="20.5">0.16</text><text x="1150" y="20.5">0.1</text></g>
<g transform="translate(0,1694.4)"><rect class="c" x="399" fill="rgb(251,241,238)"/><rect class="c" x="427.3" fill="rgb(251,241,238)"/><rect class="c" x="455.7" fill="rgb(252,242,240)"/><rect class="c" x="484" fill="rgb(251,239,236)"/><rect class="c" x="512.3" fill="rgb(252,242,240)"/><rect class="c" x="823.9" fill="rgb(253,247,246)"/><rect class="c" x="937.3" fill="rgb(252,243,241)"/><rect class="c" x="1135.6" fill="rgb(251,238,235)"/><rect class="c" x="1163.9" fill="rgb(251,238,235)"/><rect class="c" x="1192.2" fill="rgb(250,237,234)"/><text x="413" y="20.5">0.18</text><text x="441.5" y="20.5">0.18</text><text x="470" y="20.5">0.16</text><text x="498" y="20.5">0.21</text><text x="526.5" y="20.5">0.16</text><text x="838" y="20.5">0.1</text><text x="951.5" y="20.5">0.15</text><text x="1150" y="20.5">0.22</text><text x="1178" y="20.5">0.22</text><text x="1206.5" y="20.5">0.23</text></g>
<g transform="translate(0,1724.7)"><rect class="c" x="455.7" fill="rgb(250,237,234)"/><rect class="c" x="569" fill="rgb(251,241,238)"/><rect class="c" x="710.6" fill="rgb(252,242,240)"/><rect class="c" x="823.9" fill="rgb(253,247,246)"/><rect class="c" x="1022.3" fill="rgb(251,241,238)"/><rect class="c" x="1107.2" fill="rgb(251,238,235)"/><text x="470" y="20.5">0.23</text><text x="583" y="20.5">0.18</text><text x="725" y="20.5">0.16</text><text x="838" y="20.5">0.1</text><text x="1036.5" y="20.5">0.18</text><text x="1121.5" y="20.5">0.22</text><text x="1150" y="20.5">0.01</text></g>
<g transform="translate(0,1754.9)"><rect class="c" x="427.3" fill="rgb(250,233,229)"/><rect class="c" x="455.7" fill="rgb(250,234,230)"/><rect class="c" x="484" fill="rgb(248,228,224)"/><rect class="c" x="823.9" fill="rgb(241,199,190)"/><rect class="c" x="1163.9" fill="rgb(251,239,236)"/><rect class="c" x="1192.2" fill="rgb(250,235,231)"/><text x="441.5" y="20.5">0.28</text><text x="470" y="20.5">0.27</text><text x="498" y="20.5">0.34</text><text x="838" y="20.5">0.71</text><text x="1178" y="20.5">0.21</text><text x="1206.5" y="20.5">0.26</text></g>
<g transform="translate(0,1785.1)"><rect class="c" x="512.3" fill="rgb(253,246,245)"/><rect class="c" x="1135.6" fill="rgb(252,243,241)"/><text x="526.5" y="20.5">0.11</text><text x="838" y="20.5">0.05</text><text x="1150" y="20.5">0.15</text></g>
<g transform="translate(0,1815.3)"><rect class="c" x="625.6" fill="rgb(251,239,236)"/><rect class="c" x="710.6" fill="rgb(248,228,224)"/><rect class="c" x="852.3" fill="rgb(252,242,239)"/><text x="441.5" y="20.5">0.07</text><text x="640" y="20.5">0.21</text><text x="725" y="20.5">0.34</text><text x="838" y="20.5">0.05</text><text x="866.5" y="20.5">0.17</text></g>
<g transform="translate(0,1845.6)"><rect class="c" x="342.3" fill="rgb(252,242,240)"/><rect class="c" x="399" fill="rgb(252,242,239)"/><rect class="c" x="484" fill="rgb(252,243,241)"/><rect class="c" x="512.3" fill="rgb(252,245,243)"/><rect class="c" x="540.6" fill="rgb(248,226,221)"/><rect class="c" x="569" fill="rgb(250,235,231)"/><rect class="c" x="625.6" fill="rgb(251,239,236)"/><rect class="c" x="710.6" fill="rgb(248,225,220)"/><rect class="c" x="823.9" fill="rgb(253,246,245)"/><rect class="c" x="1135.6" fill="rgb(251,239,237)"/><text x="356.5" y="20.5">0.16</text><text x="413" y="20.5">0.17</text><text x="498" y="20.5">0.15</text><text x="526.5" y="20.5">0.13</text><text x="555" y="20.5">0.37</text><text x="583" y="20.5">0.26</text><text x="640" y="20.5">0.21</text><text x="725" y="20.5">0.38</text><text x="838" y="20.5">0.11</text><text x="1150" y="20.5">0.2</text></g>
<g transform="translate(0,1875.8)"><rect class="c" x="342.3" fill="rgb(252,245,243)"/><rect class="c" x="540.6" fill="rgb(251,240,238)"/><rect class="c" x="710.6" fill="rgb(252,245,243)"/><rect class="c" x="738.9" fill="rgb(252,244,242)"/><rect class="c" x="823.9" fill="rgb(253,247,246)"/><rect class="c" x="1163.9" fill="rgb(252,245,243)"/><text x="356.5" y="20.5">0.13</text><text x="470" y="20.5">0.05</text><text x="555" y="20.5">0.19</text><text x="583" y="20.5">0.06</text><text x="725" y="20.5">0.13</text><text x="753" y="20.5">0.14</text><text x="838" y="20.5">0.1</text><text x="923" y="20.5">0.07</text><text x="1093" y="20.5">0.04</text><text x="1178" y="20.5">0.13</text></g>
<g transform="translate(0,1906)"><rect class="c" x="399" fill="rgb(253,246,245)"/><rect class="c" x="427.3" fill="rgb(252,243,241)"/><rect class="c" x="455.7" fill="rgb(253,246,244)"/><rect class="c" x="512.3" fill="rgb(253,247,246)"/><rect class="c" x="937.3" fill="rgb(252,245,243)"/><rect class="c" x="1135.6" fill="rgb(251,238,235)"/><rect class="c" x="1163.9" fill="rgb(252,244,242)"/><text x="413" y="20.5">0.11</text><text x="441.5" y="20.5">0.15</text><text x="470" y="20.5">0.12</text><text x="526.5" y="20.5">0.1</text><text x="838" y="20.5">0.06</text><text x="951.5" y="20.5">0.13</text><text x="1150" y="20.5">0.22</text><text x="1178" y="20.5">0.14</text></g>
<g transform="translate(0,1936.3)"><rect class="c" x="399" fill="rgb(251,240,238)"/><rect class="c" x="427.3" fill="rgb(250,235,231)"/><rect class="c" x="455.7" fill="rgb(249,231,228)"/><rect class="c" x="512.3" fill="rgb(247,221,216)"/><rect class="c" x="738.9" fill="rgb(245,217,210)"/><rect class="c" x="823.9" fill="rgb(251,238,235)"/><rect class="c" x="937.3" fill="rgb(250,236,233)"/><text x="413" y="20.5">0.19</text><text x="441.5" y="20.5">0.26</text><text x="470" y="20.5">0.3</text><text x="526.5" y="20.5">0.43</text><text x="753" y="20.5">0.49</text><text x="838" y="20.5">0.22</text><text x="951.5" y="20.5">0.24</text></g>
<g transform="translate(0,1966.5)"><rect class="c" x="399" fill="rgb(251,239,237)"/><rect class="c" x="427.3" fill="rgb(251,240,238)"/><rect class="c" x="455.7" fill="rgb(250,235,232)"/><rect class="c" x="512.3" fill="rgb(251,239,236)"/><rect class="c" x="823.9" fill="rgb(253,246,244)"/><rect class="c" x="937.3" fill="rgb(249,232,228)"/><text x="413" y="20.5">0.2</text><text x="441.5" y="20.5">0.19</text><text x="470" y="20.5">0.25</text><text x="526.5" y="20.5">0.21</text><text x="838" y="20.5">0.12</text><text x="951.5" y="20.5">0.29</text></g>
<g transform="translate(0,1996.7)"><text x="1178" y="20.5">0.01</text></g>
<g transform="translate(0,2027)"><rect class="c" x="427.3" fill="rgb(253,246,244)"/><rect class="c" x="484" fill="rgb(253,246,244)"/><rect class="c" x="1163.9" fill="rgb(252,244,242)"/><rect class="c" x="1192.2" fill="rgb(252,244,242)"/><text x="441.5" y="20.5">0.12</text><text x="470" y="20.5">0.09</text><text x="498" y="20.5">0.12</text><text x="1178" y="20.5">0.14</text><text x="1206.5" y="20.5">0.14</text></g>
<g transform="translate(0,2057.2)"><rect class="c" x="399" fill="rgb(252,244,242)"/><rect class="c" x="427.3" fill="rgb(252,243,241)"/><rect class="c" x="484" fill="rgb(251,241,238)"/><rect class="c" x="569" fill="rgb(251,241,238)"/><rect class="c" x="710.6" fill="rgb(252,243,241)"/><rect class="c" x="823.9" fill="rgb(252,245,243)"/><rect class="c" x="937.3" fill="rgb(251,239,236)"/><rect class="c" x="1163.9" fill="rgb(252,245,243)"/><text x="413" y="20.5">0.14</text><text x="441.5" y="20.5">0.15</text><text x="498" y="20.5">0.18</text><text x="583" y="20.5">0.18</text><text x="640" y="20.5">0.08</text><text x="725" y="20.5">0.15</text><text x="838" y="20.5">0.13</text><text x="951.5" y="20.5">0.21</text><text x="1178" y="20.5">0.13</text></g>
<g transform="translate(0,2087.4)"><rect class="c" x="399" fill="rgb(247,223,217)"/><rect class="c" x="427.3" fill="rgb(249,230,226)"/><rect class="c" x="455.7" fill="rgb(250,234,230)"/><rect class="c" x="484" fill="rgb(249,229,225)"/><rect class="c" x="512.3" fill="rgb(247,224,218)"/><rect class="c" x="823.9" fill="rgb(249,230,226)"/><rect class="c" x="937.3" fill="rgb(249,231,227)"/><rect class="c" x="1135.6" fill="rgb(251,241,238)"/><rect class="c" x="1163.9" fill="rgb(249,231,228)"/><rect class="c" x="1192.2" fill="rgb(251,241,238)"/><text x="413" y="20.5">0.41</text><text x="441.5" y="20.5">0.32</text><text x="470" y="20.5">0.27</text><text x="498" y="20.5">0.33</text><text x="526.5" y="20.5">0.4</text><text x="838" y="20.5">0.32</text><text x="951.5" y="20.5">0.31</text><text x="1150" y="20.5">0.18</text><text x="1178" y="20.5">0.3</text><text x="1206.5" y="20.5">0.18</text></g>
<g transform="translate(0,2117.6)"><text x="413" y="20.5">0.04</text><text x="441.5" y="20.5">0.04</text><text x="498" y="20.5">0.05</text><text x="526.5" y="20.5">0.05</text><text x="640" y="20.5">0.05</text><text x="838" y="20.5">0.03</text><text x="1150" y="20.5">0.03</text><text x="1178" y="20.5">0.04</text></g>
<g transform="translate(0,2147.9)"><rect class="c" x="399" fill="rgb(250,235,232)"/><rect class="c" x="427.3" fill="rgb(250,234,230)"/><rect class="c" x="455.7" fill="rgb(251,241,238)"/><rect class="c" x="484" fill="rgb(250,237,234)"/><rect class="c" x="512.3" fill="rgb(250,234,230)"/><rect class="c" x="823.9" fill="rgb(250,236,233)"/><rect class="c" x="852.3" fill="rgb(252,244,242)"/><rect class="c" x="937.3" fill="rgb(252,242,239)"/><text x="413" y="20.5">0.25</text><text x="441.5" y="20.5">0.27</text><text x="470" y="20.5">0.18</text><text x="498" y="20.5">0.23</text><text x="526.5" y="20.5">0.27</text><text x="838" y="20.5">0.24</text><text x="866.5" y="20.5">0.14</text><text x="951.5" y="20.5">0.17</text></g>
<g transform="translate(0,2178.1)"><rect class="c" x="484" fill="rgb(253,247,246)"/><rect class="c" x="823.9" fill="rgb(253,247,246)"/><text x="413" y="20.5">0.09</text><text x="441.5" y="20.5">0.06</text><text x="470" y="20.5">0.05</text><text x="498" y="20.5">0.1</text><text x="838" y="20.5">0.1</text><text x="951.5" y="20.5">0.06</text><text x="1206.5" y="20.5">0.07</text></g>
<g transform="translate(0,2208.3)"><rect class="c" x="399" fill="rgb(247,224,219)"/><rect class="c" x="427.3" fill="rgb(249,231,227)"/><rect class="c" x="484" fill="rgb(247,224,218)"/><rect class="c" x="569" fill="rgb(248,228,223)"/><rect class="c" x="625.6" fill="rgb(250,235,231)"/><rect class="c" x="710.6" fill="rgb(246,220,214)"/><rect class="c" x="823.9" fill="rgb(247,224,219)"/><rect class="c" x="1163.9" fill="rgb(250,234,230)"/><text x="413" y="20.5">0.39</text><text x="441.5" y="20.5">0.31</text><text x="498" y="20.5">0.4</text><text x="583" y="20.5">0.35</text><text x="640" y="20.5">0.26</text><text x="725" y="20.5">0.45</text><text x="838" y="20.5">0.39</text><text x="1178" y="20.5">0.27</text></g>
<g transform="translate(0,2238.6)"><rect class="c" x="625.6" fill="rgb(253,247,246)"/><rect class="c" x="710.6" fill="rgb(253,247,246)"/><rect class="c" x="738.9" fill="rgb(253,247,246)"/><text x="470" y="20.5">0.04</text><text x="526.5" y="20.5">0.06</text><text x="640" y="20.5">0.1</text><text x="725" y="20.5">0.1</text><text x="753" y="20.5">0.1</text><text x="866.5" y="20.5">0.06</text><text x="1150" y="20.5">0.08</text></g>
<g transform="translate(0,2268.8)"><rect class="c" x="427.3" fill="rgb(253,247,246)"/><rect class="c" x="455.7" fill="rgb(253,246,244)"/><rect class="c" x="484" fill="rgb(251,241,238)"/><rect class="c" x="625.6" fill="rgb(236,180,167)"/><rect class="c" x="1163.9" fill="rgb(252,243,241)"/><rect class="c" x="1192.2" fill="rgb(253,246,244)"/><text x="441.5" y="20.5">0.1</text><text x="470" y="20.5">0.12</text><text x="498" y="20.5">0.18</text><text x="640" y="20.5">0.96</text><text x="1178" y="20.5">0.15</text><text x="1206.5" y="20.5">0.12</text></g>
<g transform="translate(0,2299)"><rect class="c" x="455.7" fill="rgb(250,234,230)"/><rect class="c" x="484" fill="rgb(253,246,245)"/><rect class="c" x="569" fill="rgb(252,245,243)"/><rect class="c" x="710.6" fill="rgb(252,242,239)"/><rect class="c" x="823.9" fill="rgb(253,247,246)"/><text x="413" y="20.5">0.08</text><text x="441.5" y="20.5">0.09</text><text x="470" y="20.5">0.27</text><text x="498" y="20.5">0.11</text><text x="583" y="20.5">0.13</text><text x="725" y="20.5">0.17</text><text x="838" y="20.5">0.1</text><text x="1150" y="20.5">0.06</text></g>
</g>

<!-- highlight boxes -->
<rect x="417" y="58" width="48" height="2275" fill="none" stroke="#f5c35a" stroke-width="3"/>
<rect x="814" y="58" width="48" height="2275" fill="none" stroke="#f5c35a" stroke-width="3"/>
<rect x="311" y="1755" width="927" height="30" fill="none" stroke="#c0171b" stroke-width="2.5"/>
<rect x="311" y="2087.4" width="927" height="30.2" fill="none" stroke="#c0171b" stroke-width="2.5"/>
<path d="M1238 1755L1348 5M1238 1785L1348 572M1238 2087.4L1352 1291M1238 2117.6L1352 1826" stroke="#c0171b" stroke-width="2" fill="none"/>

<!-- y labels -->
<g class="yl" transform="translate(305,0) scale(0.75,1)">
<text x="0" y="84.5">AEL_GSE142213</text><text x="0" y="114.7">ALL_GSE132509</text><text x="0" y="145">AML_GSE116256</text><text x="0" y="175.2">BCC_GSE123813_aPD1</text><text x="0" y="205.4">BLCA_GSE130001</text><text x="0" y="235.7">BLCA_GSE145281_aPDL1</text><text x="0" y="265.9">BRCA_GSE110686</text><text x="0" y="296.1">BRCA_GSE114727_10X</text><text x="0" y="326.3">BRCA_GSE114727_inDrop</text><text x="0" y="356.6">BRCA_GSE136206_mouse_aPD1aCTLA4</text><text x="0" y="386.8">BRCA_GSE138536</text><text x="0" y="417">BRCA_GSE143423</text><text x="0" y="447.3">BRCA_SRP114962</text><text x="0" y="477.5">CHOL_GSE125449_aPD1aPDL1aCTLA4</text><text x="0" y="507.7">CLL_GSE111014</text><text x="0" y="538">CLL_GSE125881</text><text x="0" y="568.2">CRC_GSE108989</text><text x="0" y="598.4">CRC_GSE136394</text><text x="0" y="628.6">CRC_GSE139555</text><text x="0" y="658.9">CRC_GSE146771_10X</text><text x="0" y="689.1">CRC_GSE146771_Smartseq2</text><text x="0" y="719.3">Glioma_GSE102130</text><text x="0" y="749.6">Glioma_GSE103224</text><text x="0" y="779.8">Glioma_GSE131928_10X</text><text x="0" y="810">Glioma_GSE131928_Smartseq2</text><text x="0" y="840.3">Glioma_GSE135437</text><text x="0" y="870.5">Glioma_GSE138794</text><text x="0" y="900.7">Glioma_GSE139448</text><text x="0" y="930.9">Glioma_GSE141982</text><text x="0" y="961.2">Glioma_GSE148842</text><text x="0" y="991.4">Glioma_GSE70630</text><text x="0" y="1021.6">Glioma_GSE84465</text><text x="0" y="1051.9">Glioma_GSE89567</text><text x="0" y="1082.1">HNSC_GSE103322</text><text x="0" y="1112.3">HNSC_GSE139324</text><text x="0" y="1142.6">KIRC_GSE111360</text><text x="0" y="1172.8">KIRC_GSE139555</text><text x="0" y="1203">KIRC_GSE145281_aPDL1</text><text x="0" y="1233.2">LIHC_GSE125449_aPDL1aCTLA4</text><text x="0" y="1263.5">LIHC_GSE140228_10X</text><text x="0" y="1293.7">LIHC_GSE140228_Smartseq2</text><text x="0" y="1323.9">LIHC_GSE98638</text><text x="0" y="1354.2">MB_GSE119926</text><text x="0" y="1384.4">MCC_GSE117988_aPD1aCTLA4</text><text x="0" y="1414.6">MCC_GSE118056_aPDL1</text><text x="0" y="1444.9">MM_GSE117156</text><text x="0" y="1475.1">MM_GSE141299</text><text x="0" y="1505.3">NET_GSE140312</text><text x="0" y="1535.5">NHL_GSE128531</text><text x="0" y="1565.8">NSCLC_EMTAB6149</text><text x="0" y="1596">NSCLC_GSE117570</text><text x="0" y="1626.2">NSCLC_GSE127465</text><text x="0" y="1656.5">NSCLC_GSE127471</text><text x="0" y="1686.7">NSCLC_GSE131907</text><text x="0" y="1716.9">NSCLC_GSE139555</text><text x="0" y="1747.2">NSCLC_GSE143423</text><text x="0" y="1777.4">NSCLC_GSE99254</text><text x="0" y="1807.6">OV_GSE115007</text><text x="0" y="1837.8">OV_GSE118828</text><text x="0" y="1868.1">PAAD_CRA001160</text><text x="0" y="1898.3">PAAD_GSE111672</text><text x="0" y="1928.5">PBMC_30K_10X</text><text x="0" y="1958.8">PBMC_60K_10X</text><text x="0" y="1989">PBMC_8K_10X</text><text x="0" y="2019.2">SARC_GSE119352_mouse_aPD1aCTLA4</text><text x="0" y="2049.5">SCC_GSE123813_aPD1</text><text x="0" y="2079.7">SKCM_GSE115978_aPD1</text><text x="0" y="2109.9">SKCM_GSE120575_aPD1aCTLA4</text><text x="0" y="2140.1">SKCM_GSE123139</text><text x="0" y="2170.4">SKCM_GSE139249</text><text x="0" y="2200.6">SKCM_GSE148190</text><text x="0" y="2230.8">SKCM_GSE72056</text><text x="0" y="2261.1">STAD_GSE134520</text><text x="0" y="2291.3">UCEC_GSE139555</text><text x="0" y="2321.5">UVM_GSE139829</text>
</g>

<!-- x labels -->
<g class="xl">
<text transform="translate(324,2352) rotate(-45)">AC−like Malignant</text>
<text transform="translate(352.5,2352) rotate(-45)">Acinar</text>
<text transform="translate(381,2352) rotate(-45)">Astrocyte</text>
<text transform="translate(409,2352) rotate(-45)">B</text>
<text transform="translate(437.5,2352) rotate(-45)" fill="#e0143c" style="fill:#e0143c">CD4Tconv</text>
<text transform="translate(466,2352) rotate(-45)">CD8T</text>
<text transform="translate(494,2352) rotate(-45)">CD8Tex</text>
<text transform="translate(522.5,2352) rotate(-45)">DC</text>
<text transform="translate(551,2352) rotate(-45)">Ductal</text>
<text transform="translate(579,2352) rotate(-45)">Endothelial</text>
<text transform="translate(607.5,2352) rotate(-45)">Epithelial</text>
<text transform="translate(636,2352) rotate(-45)">Fibroblasts</text>
<text transform="translate(664,2352) rotate(-45)">Hepatic progenitor</text>
<text transform="translate(692.5,2352) rotate(-45)">ILC</text>
<text transform="translate(721,2352) rotate(-45)">Malignant</text>
<text transform="translate(749,2352) rotate(-45)">Mast</text>
<text transform="translate(777.5,2352) rotate(-45)">Melanocytes</text>
<text transform="translate(806,2352) rotate(-45)">MES−like Malignant</text>
<text transform="translate(834,2352) rotate(-45)" style="fill:#e0143c">Mono/Macro</text>
<text transform="translate(862.5,2352) rotate(-45)">Myofibroblasts</text>
<text transform="translate(891,2352) rotate(-45)">Neuron</text>
<text transform="translate(919,2352) rotate(-45)">Neutrophils</text>
<text transform="translate(947.5,2352) rotate(-45)">NK</text>
<text transform="translate(976,2352) rotate(-45)">NPC−like Malignant</text>
<text transform="translate(1004,2352) rotate(-45)">OC−like Malignant</text>
<text transform="translate(1032.5,2352) rotate(-45)">Oligodendrocyte</text>
<text transform="translate(1061,2352) rotate(-45)">OPC−like Malignant</text>
<text transform="translate(1089,2352) rotate(-45)">Others</text>
<text transform="translate(1117.5,2352) rotate(-45)">Pericytes</text>
<text transform="translate(1146,2352) rotate(-45)">Plasma</text>
<text transform="translate(1174,2352) rotate(-45)">Tprolif</text>
<text transform="translate(1202.5,2352) rotate(-45)">Treg</text>
</g>

<!-- colorbar A -->
<text x="1222" y="42" font-size="16" fill="#222">log(TPM/10+1)</text>
<rect x="1263" y="59" width="21" height="333" fill="url(#gA)"/>
<g font-size="16" fill="#222"><text x="1292" y="76">2.5</text><text x="1292" y="141">2</text><text x="1292" y="205">1.5</text><text x="1292" y="269">1</text><text x="1292" y="334">0.5</text><text x="1292" y="398">0</text></g>

<!-- Panel B -->
<rect x="1348" y="5" width="502" height="567" fill="none" stroke="#c0171b" stroke-width="2.5"/>
<text x="1362" y="39" font-size="36" font-weight="bold" fill="#111">B</text>
<text x="1457" y="30" font-size="16" fill="#222">NSCLC_GSE99254</text>
<path d="M1412 44V306M1443 44V306M1475 44V306M1507 44V306M1539 44V306M1571 44V306M1603 44V306M1635 44V306M1667 44V306M1392 52H1670M1392 90H1670M1392 128H1670M1392 166H1670M1392 203H1670M1392 241H1670M1392 279H1670" stroke="#e4e4e4" fill="none"/>
<polygon points="1418,57 1440,57 1447,65 1473,69 1497,92 1510,96 1513,107 1533,134 1535,153 1520,165 1497,169 1493,184 1497,215 1483,222 1467,215 1460,192 1447,184 1433,192 1417,184 1405,161 1403,146 1417,126 1417,107 1420,77" fill="#f29a17"/>
<ellipse cx="1433" cy="215" rx="20" ry="27" fill="#1f7a68"/>
<polygon points="1517,184 1557,172 1593,180 1607,207 1573,218 1547,249 1520,261 1507,245 1513,215" fill="#48c3a3"/>
<polygon points="1593,157 1617,149 1640,157 1640,180 1623,207 1603,215 1597,184" fill="#5563b8"/>
<ellipse cx="1557" cy="238" rx="17" ry="15" fill="#5563b8"/>
<ellipse cx="1640" cy="142" rx="17" ry="15" fill="#f29a17"/>
<ellipse cx="1482" cy="280" rx="9" ry="14" fill="#d75fb6"/>
<circle cx="1560" cy="113" r="4" fill="#1f7a68"/><circle cx="1580" cy="128" r="3" fill="#48c3a3"/>
<g class="cl"><text x="1483" y="135">CD4Tconv</text><text x="1433" y="215">Treg</text><text x="1553" y="213">CD8Tex</text><text x="1592" y="197">CD8T</text><text x="1531" y="245">Mono/Macro</text><text x="1483" y="275">Tprolif</text></g>
<g class="lg"><text x="1698" y="141">Celltype (major-lineage)</text>
<circle cx="1708" cy="151" r="4" fill="#f29a17"/><text x="1717" y="155">CD4Tconv</text>
<circle cx="1708" cy="164" r="4" fill="#5563b8"/><text x="1717" y="168">CD8T</text>
<circle cx="1708" cy="176" r="4" fill="#48c3a3"/><text x="1717" y="180">CD8Tex</text>
<circle cx="1708" cy="189" r="4" fill="#a3d14a"/><text x="1717" y="193">Mono/Macro</text>
<circle cx="1708" cy="201" r="4" fill="#d75fb6"/><text x="1717" y="205">Tprolif</text>
<circle cx="1708" cy="214" r="4" fill="#1f7a68"/><text x="1717" y="218">Treg</text></g>
<text x="1570" y="333" font-size="19" fill="#222" text-anchor="middle" letter-spacing="3">MZF1</text>
<path d="M1420 343V557M1460 343V557M1500 343V557M1540 343V557M1580 343V557M1620 343V557M1659 343V557M1699 343V557M1738 343V557M1397 379H1743M1397 412H1743M1397 441H1743M1397 471H1743M1397 504H1743M1397 534H1743" stroke="#e8e8e8" fill="none"/>
<use xlink:href="#umapB" href="#umapB" transform="matrix(1.245,0,0,0.817,-336,307.1)" fill="url(#gp)"/>
<g fill="#2b2b8c"><circle cx="1450" cy="370" r="1.3"/><circle cx="1470" cy="395" r="1.3"/><circle cx="1500" cy="420" r="1.3"/><circle cx="1520" cy="445" r="1.3"/><circle cx="1440" cy="470" r="1.3"/><circle cx="1560" cy="470" r="1.3"/><circle cx="1600" cy="480" r="1.3"/><circle cx="1650" cy="450" r="1.3"/><circle cx="1690" cy="440" r="1.3"/><circle cx="1480" cy="350" r="1.3"/><circle cx="1620" cy="495" r="1.3"/><circle cx="1545" cy="410" r="1.3"/></g>
<rect x="1766" y="343" width="22" height="214" fill="url(#gB)"/>
<g class="tk"><text x="1796" y="348">3.5</text><text x="1796" y="378">3.0</text><text x="1796" y="409">2.5</text><text x="1796" y="439">2.0</text><text x="1796" y="470">1.5</text><text x="1796" y="500">1.0</text><text x="1796" y="531">0.5</text><text x="1796" y="561">0.0</text></g>

<!-- Panel C -->
<text x="1357" y="604" font-size="34" font-weight="bold" fill="#111">C</text>
<text x="1508" y="605" font-size="15" font-weight="bold" fill="#111" text-anchor="middle">MZF1</text>
<use xlink:href="#sp1" href="#sp1" transform="translate(1393,614)"/>
<rect x="1638" y="614" width="23" height="196" fill="url(#gR)" stroke="#ddd"/>
<text transform="translate(1643,628) rotate(90)" font-size="11" fill="#333">0.0</text>
<text transform="translate(1643,796) rotate(90)" font-size="11" fill="#333">2.8</text>
<text x="1497" y="836" font-size="15" font-weight="bold" fill="#111" text-anchor="middle">CD68</text>
<use xlink:href="#sp1" href="#sp1" transform="translate(1389,848) scale(1.017,0.99)"/>
<rect x="1640" y="845" width="23" height="196" fill="url(#gR)" stroke="#ddd"/>
<text transform="translate(1645,858) rotate(90)" font-size="11" fill="#333">0.0</text>
<text transform="translate(1645,1027) rotate(90)" font-size="11" fill="#333">2.9</text>
<text x="1523" y="1070" font-size="15" font-weight="bold" fill="#111" text-anchor="middle">CD163</text>
<use xlink:href="#sp1" href="#sp1" transform="translate(1389,1077) scale(1.04,1.05)"/>
<rect x="1643" y="1078" width="23" height="204" fill="url(#gR)" stroke="#ddd"/>
<text transform="translate(1648,1091) rotate(90)" font-size="11" fill="#333">0.0</text>
<text transform="translate(1648,1268) rotate(90)" font-size="11" fill="#333">4.6</text>

<!-- Panel D -->
<rect x="1352" y="1291" width="497" height="535" fill="none" stroke="#c0171b" stroke-width="2.5"/>
<text x="1359" y="1322" font-size="34" font-weight="bold" fill="#111">D</text>
<text x="1401" y="1314" font-size="14.5" fill="#222">SKCM_GSE120575_aPD1aCTLA4</text>
<path d="M1398 1328V1567M1444 1328V1567M1491 1328V1567M1538 1328V1567M1584 1328V1567M1631 1328V1567M1393 1331H1647M1393 1380H1647M1393 1429H1647M1393 1479H1647M1393 1528H1647" stroke="#e4e4e4" fill="none"/>
<polygon points="1437,1383 1450,1368 1480,1357 1487,1387 1473,1380 1450,1395" fill="#1a7a68"/>
<circle cx="1497" cy="1343" r="6" fill="#d45bb0"/>
<polygon points="1453,1449 1473,1437 1507,1445 1515,1460 1513,1495 1507,1525 1523,1537 1520,1552 1487,1556 1473,1544 1470,1525 1457,1518 1453,1479" fill="#3cbf9a"/>
<ellipse cx="1468" cy="1452" rx="16" ry="9" fill="#ef5a50"/>
<ellipse cx="1490" cy="1470" rx="18" ry="10" fill="#5b63b7"/>
<ellipse cx="1495" cy="1508" rx="18" ry="14" fill="#8cc63f"/>
<ellipse cx="1488" cy="1541" rx="22" ry="13" fill="#e3a81b"/>
<ellipse cx="1518" cy="1540" rx="10" ry="9" fill="#8cc63f"/>
<ellipse cx="1420" cy="1495" rx="12" ry="18" fill="#6d3fa0"/>
<ellipse cx="1443" cy="1523" rx="10" ry="8" fill="#8cc63f"/>
<ellipse cx="1607" cy="1456" rx="20" ry="15" fill="#f08c00"/>
<ellipse cx="1587" cy="1483" rx="10" ry="8" fill="#2d8fd9"/>
<g class="cl"><text x="1497" y="1345">DC</text><text x="1467" y="1376">Mono/Macro</text><text x="1472" y="1451">Treg</text><text x="1476" y="1472">CD4Tconv</text><text x="1477" y="1493">CD8T</text><text x="1493" y="1509">CD8Tex</text><text x="1483" y="1537">NK</text><text x="1433" y="1497">Tprolif</text><text x="1614" y="1456">B</text><text x="1590" y="1479">Plasma</text></g>
<g class="lg"><text x="1672" y="1394">Celltype (major-lineage)</text>
<circle cx="1680" cy="1402" r="4" fill="#f08c00"/><text x="1688" y="1406">B</text>
<circle cx="1680" cy="1413.5" r="4" fill="#5b63b7"/><text x="1688" y="1417.5">CD4Tconv</text>
<circle cx="1680" cy="1425" r="4" fill="#3cbf9a"/><text x="1688" y="1429">CD8T</text>
<circle cx="1680" cy="1436.5" r="4" fill="#8cc63f"/><text x="1688" y="1440.5">CD8Tex</text>
<circle cx="1680" cy="1448" r="4" fill="#d45bb0"/><text x="1688" y="1452">DC</text>
<circle cx="1680" cy="1459.5" r="4" fill="#1a7a68"/><text x="1688" y="1463.5">Mono/Macro</text>
<circle cx="1680" cy="1471" r="4" fill="#e3a81b"/><text x="1688" y="1475">NK</text>
<circle cx="1680" cy="1482.5" r="4" fill="#2d8fd9"/><text x="1688" y="1486.5">Plasma</text>
<circle cx="1680" cy="1494" r="4" fill="#6d3fa0"/><text x="1688" y="1498">Tprolif</text>
<circle cx="1680" cy="1505.5" r="4" fill="#ef5a50"/><text x="1688" y="1509.5">Treg</text></g>
<text x="1560" y="1595" font-size="19" fill="#222" text-anchor="middle" letter-spacing="3">MZF1</text>
<path d="M1403 1608V1813M1463 1608V1813M1522 1608V1813M1582 1608V1813M1641 1608V1813M1700 1608V1813M1403 1610H1720M1403 1652H1720M1403 1695H1720M1403 1737H1720M1403 1779H1720" stroke="#e8e8e8" fill="none"/>
<use xlink:href="#umapD" href="#umapD" transform="matrix(1.27,0,0,0.86,-371.2,465.9)" fill="url(#gp)"/>
<g fill="#2b2b8c"><circle cx="1480" cy="1720" r="1.3"/><circle cx="1500" cy="1740" r="1.3"/><circle cx="1470" cy="1760" r="1.3"/><circle cx="1510" cy="1700" r="1.3"/><circle cx="1495" cy="1775" r="1.3"/><circle cx="1680" cy="1665" r="1.3"/><circle cx="1675" cy="1678" r="1.3"/><circle cx="1520" cy="1790" r="1.3"/></g>
<rect x="1741" y="1607" width="22" height="206" fill="url(#gB)"/>
<g class="tk"><text x="1772" y="1616">2.5</text><text x="1772" y="1656">2.0</text><text x="1772" y="1696">1.5</text><text x="1772" y="1736">1.0</text><text x="1772" y="1776">0.5</text><text x="1772" y="1816">0.0</text></g>

<!-- Panel E -->
<text x="1365" y="1857" font-size="34" font-weight="bold" fill="#111">E</text>
<text x="1508" y="1853" font-size="15" font-weight="bold" fill="#111" text-anchor="middle">MZF1</text>
<use xlink:href="#sp2" href="#sp2" transform="translate(1393,1865)"/>
<rect x="1645" y="1863" width="24" height="204" fill="url(#gR)" stroke="#ddd"/>
<text transform="translate(1650,1876) rotate(90)" font-size="11" fill="#333">0.0</text>
<text transform="translate(1650,2053) rotate(90)" font-size="11" fill="#333">2.1</text>
<text x="1510" y="2087" font-size="15" font-weight="bold" fill="#111" text-anchor="middle">ANXA1</text>
<use xlink:href="#sp2" href="#sp2" transform="translate(1393,2094) scale(1,0.95)"/>
<rect x="1645" y="2092" width="24" height="191" fill="url(#gR)" stroke="#ddd"/>
<text transform="translate(1650,2105) rotate(90)" font-size="11" fill="#333">0.0</text>
<text transform="translate(1650,2269) rotate(90)" font-size="11" fill="#333">2.7</text>
<text x="1510" y="2309" font-size="15" font-weight="bold" fill="#111" text-anchor="middle">CCR7</text>
<use xlink:href="#sp2" href="#sp2" transform="translate(1393,2318) scale(1,0.92)"/>
<rect x="1645" y="2316" width="24" height="184" fill="url(#gR)" stroke="#ddd"/>
<text transform="translate(1650,2329) rotate(90)" font-size="11" fill="#333">0.0</text>
</svg>
</body></html>
